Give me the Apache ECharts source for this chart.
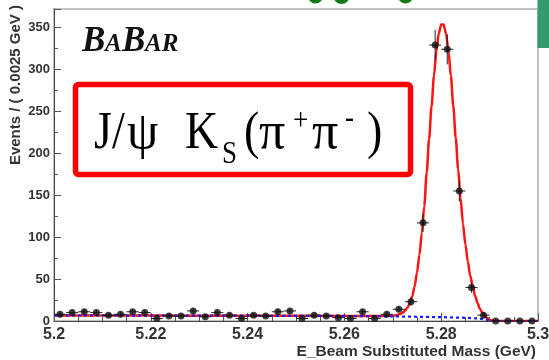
<!DOCTYPE html>
<html>
<head>
<meta charset="utf-8">
<script src="https://cdn.jsdelivr.net/npm/echarts@6/dist/echarts.min.js"></script>
<style>
  html, body { margin: 0; padding: 0; background: #ffffff; }
  #chart { width: 549px; height: 360px; }
</style>
</head>
<body>
<div id="chart"></div>
<script>
// Histogram binning of the beam-energy substituted mass
const binStart = 5.2;
const binWidth = 0.0025;

// Events per bin (40 bins, 5.20 - 5.30 GeV)
const eventCounts = [8, 10, 11, 10, 7, 8, 11, 10, 3, 6,
                     6, 12, 5, 10, 7, 3, 7, 6, 11, 12,
                     3, 7, 6, 4, 3, 11, 3, 8, 14, 23,
                     117, 329, 324, 155, 40, 7, 0, 0, 0, 0];
// Statistical error on each bin
const countErrors = [2.8, 3.2, 3.3, 3.2, 2.6, 2.8, 3.3, 3.2, 1.7, 2.4,
                     2.4, 3.5, 2.2, 3.2, 2.6, 1.7, 2.6, 2.4, 3.3, 3.5,
                     1.7, 2.6, 2.4, 2.0, 1.7, 3.3, 1.7, 2.8, 3.7, 4.8,
                     10.8, 18.1, 18.0, 12.4, 6.3, 2.6, 0, 0, 0, 0];

// Total fit (signal + background), sampled along the mass axis
const fitMass = [5.200, 5.220, 5.240, 5.260, 5.265, 5.268,
                 5.2700, 5.2705, 5.2710, 5.2715, 5.2720, 5.2725, 5.2730, 5.2735, 5.2740, 5.2745,
                 5.2750, 5.2755, 5.2760, 5.2765, 5.2770, 5.2775, 5.2780, 5.2785, 5.2790, 5.2795,
                 5.2800, 5.2805, 5.2810, 5.2815, 5.2820, 5.2825, 5.2830, 5.2835, 5.2840, 5.2845,
                 5.2850, 5.2855, 5.2860, 5.2865, 5.2870, 5.2875, 5.2880, 5.2885, 5.2890, 5.2895,
                 5.2900, 5.2905, 5.2910, 5.2920, 5.3000];
const fitTotal = [6.6, 6.5, 6.3, 6.0, 5.9, 6.0,
                  6.3, 6.6, 7.3, 8.3, 9.8, 12.0, 15.5, 21.0, 29.0, 41.0,
                  57.5, 79.1, 105.0, 137.0, 176.9, 216.9, 255.8, 291.8, 321.7, 342.7,
                  353.6, 353.5, 342.5, 321.4, 292.3, 256.3, 218.2, 181.1, 146.0, 115.9,
                  91.2, 71.1, 54.0, 42.1, 30.2, 21.5, 14.7, 9.9, 6.3, 3.7,
                  1.3, 0.6, 0.25, 0, 0];

// Combinatorial background component
const bkgMass  = [5.200, 5.220, 5.240, 5.260, 5.270, 5.280, 5.285, 5.287, 5.288, 5.289, 5.2895, 5.2900, 5.3000];
const bkgLevel = [6.6, 6.5, 6.3, 6.0, 5.5, 4.6, 3.8, 3.2, 2.7, 2.0, 1.3, 0, 0];

const xAxisTitle = 'E_Beam Substituted Mass (GeV)';
const yAxisTitle = 'Events / ( 0.0025 GeV )';

const binCenters = eventCounts.map((_, i) => binStart + binWidth * (i + 0.5));
const pointData = eventCounts.map((n, i) => [binCenters[i], n]);
const errorData = eventCounts.map((n, i) => [binCenters[i], n, countErrors[i]]);
const fitData = fitMass.map((m, i) => [m, fitTotal[i]]);
const bkgData = bkgMass.map((m, i) => [m, bkgLevel[i]]);

const sansBold = '"Liberation Sans", Arial, sans-serif';
const serif = '"Liberation Serif", "Times New Roman", serif';
const axisGrey = '#444';

// Decay-mode label pieces (J/psi Ks -> pi+ pi-)
function modeText(text, x, y, size, sy) {
  return {
    type: 'text', x: x, y: y, scaleY: sy, z: 20,
    style: { text: text, font: 'normal ' + size + 'px ' + serif, fill: '#000',
             align: 'left', verticalAlign: 'middle' }
  };
}

const chart = echarts.init(document.getElementById('chart'), null, { renderer: 'canvas' });

chart.setOption({
  animation: false,
  backgroundColor: '#ffffff',
  grid: {
    left: 54, right: 11, top: 9, bottom: 39,
    show: true, borderColor: '#c2c2c2', borderWidth: 2,
    backgroundColor: 'transparent',
    outerBoundsMode: 'none'
  },
  xAxis: {
    type: 'value', min: 5.2, max: 5.3, interval: 0.02,
    axisLine: { show: true, onZero: false, lineStyle: { color: axisGrey, width: 1 } },
    axisTick: { show: true, inside: true, length: 8, lineStyle: { color: '#555', width: 1 } },
    minorTick: { show: true, splitNumber: 4, length: 4, lineStyle: { color: '#555', width: 1 } },
    splitLine: { show: false },
    minorSplitLine: { show: false },
    axisLabel: {
      margin: 6, fontSize: 16, fontWeight: 'bold', fontFamily: sansBold, color: '#333',
      showMinLabel: true, showMaxLabel: true, hideOverlap: false
    }
  },
  yAxis: {
    type: 'value', min: 0, max: 372, interval: 50,
    axisLine: { show: true, lineStyle: { color: axisGrey, width: 1 } },
    axisTick: { show: true, inside: true, length: 7, lineStyle: { color: '#555', width: 1 } },
    minorTick: { show: true, splitNumber: 2, length: 4, lineStyle: { color: '#555', width: 1 } },
    splitLine: { show: false },
    minorSplitLine: { show: false },
    axisLabel: {
      margin: 4, fontSize: 13, fontWeight: 'bold', fontFamily: sansBold, color: '#333',
      showMinLabel: true, showMaxLabel: false, hideOverlap: false
    }
  },
  series: [
    {
      name: 'total fit', type: 'line', data: fitData,
      showSymbol: false, smooth: 0.3, smoothMonotone: 'x',
      lineStyle: { color: '#ff1414', width: 2.5 },
      z: 2, silent: true
    },
    {
      name: 'background', type: 'line', data: bkgData,
      showSymbol: false,
      lineStyle: { color: '#1a1aff', width: 2.2, type: [3, 3] },
      z: 3, silent: true
    },
    {
      name: 'errors', type: 'custom', data: errorData,
      encode: { x: 0, y: 1 },
      renderItem: function (params, api) {
        const x = api.value(0), y = api.value(1), e = api.value(2);
        const top = api.coord([x, y + e]);
        const bot = api.coord([x, y - e]);
        const l = api.coord([x - binWidth / 2, y]);
        const r = api.coord([x + binWidth / 2, y]);
        return {
          type: 'group',
          children: [
            { type: 'line', shape: { x1: top[0], y1: top[1], x2: bot[0], y2: bot[1] },
              style: { stroke: '#222', lineWidth: 1 } },
            { type: 'line', shape: { x1: l[0], y1: l[1], x2: r[0], y2: r[1] },
              style: { stroke: '#222', lineWidth: 1 } }
          ]
        };
      },
      z: 4, silent: true
    },
    {
      name: 'data', type: 'scatter', data: pointData,
      symbol: 'circle', symbolSize: 7,
      itemStyle: { color: '#111' },
      z: 5, silent: true
    }
  ],
  graphic: [
    // axis titles
    { type: 'text', x: 15.5, y: 5, rotation: Math.PI / 2, z: 20,
      style: { text: yAxisTitle, font: 'bold 15px ' + sansBold, fill: '#333',
               align: 'right', verticalAlign: 'middle' } },
    { type: 'text', x: 536, y: 351.5, z: 20,
      style: { text: xAxisTitle, font: 'bold 15.5px ' + sansBold, fill: '#333',
               align: 'right', verticalAlign: 'middle' } },
    // experiment logo
    { type: 'text', x: 82, y: 41.5, z: 20,
      style: { text: 'B', font: 'italic bold 35px ' + serif, fill: '#111', align: 'left', verticalAlign: 'middle' } },
    { type: 'text', x: 105, y: 44.9, z: 20,
      style: { text: 'A', font: 'italic bold 25px ' + serif, fill: '#111', align: 'left', verticalAlign: 'middle' } },
    { type: 'text', x: 122, y: 41.5, z: 20,
      style: { text: 'B', font: 'italic bold 35px ' + serif, fill: '#111', align: 'left', verticalAlign: 'middle' } },
    { type: 'text', x: 145, y: 44.9, z: 20,
      style: { text: 'AR', font: 'italic bold 25px ' + serif, fill: '#111', align: 'left', verticalAlign: 'middle' } },
    // decay mode box
    { type: 'rect', z: 19,
      shape: { x: 75.5, y: 84.5, width: 335, height: 90, r: 3 },
      style: { fill: '#ffffff', stroke: '#ff0000', lineWidth: 5.5 } },
    modeText('J/', 94, 134, 46, 1.14),
    modeText('\u03c8', 127, 134, 50, 1.05),
    modeText('K', 185, 134, 46, 1.14),
    modeText('S', 222, 154.2, 27, 1.19),
    modeText('(', 244, 134, 46, 1.14),
    modeText('\u03c0', 259, 134, 52, 1.0),
    modeText('+', 293, 121.8, 27, 1.19),
    modeText('\u03c0', 312, 134, 52, 1.0),
    modeText('-', 345, 119, 27, 1.19),
    modeText(')', 367, 134, 46, 1.14),
    // page decorations at the top edge
    { type: 'circle', shape: { cx: 315.5, cy: -4, r: 7.5 }, style: { fill: '#157a15' }, z: 21 },
    { type: 'circle', shape: { cx: 341.5, cy: -4, r: 8 }, style: { fill: '#157a15' }, z: 21 },
    { type: 'circle', shape: { cx: 405.5, cy: -4, r: 7.5 }, style: { fill: '#157a15' }, z: 21 },
    { type: 'rect', shape: { x: 537.5, y: 0, width: 12, height: 48 }, style: { fill: '#379b69' }, z: 21 }
  ]
});
</script>
</body>
</html>
